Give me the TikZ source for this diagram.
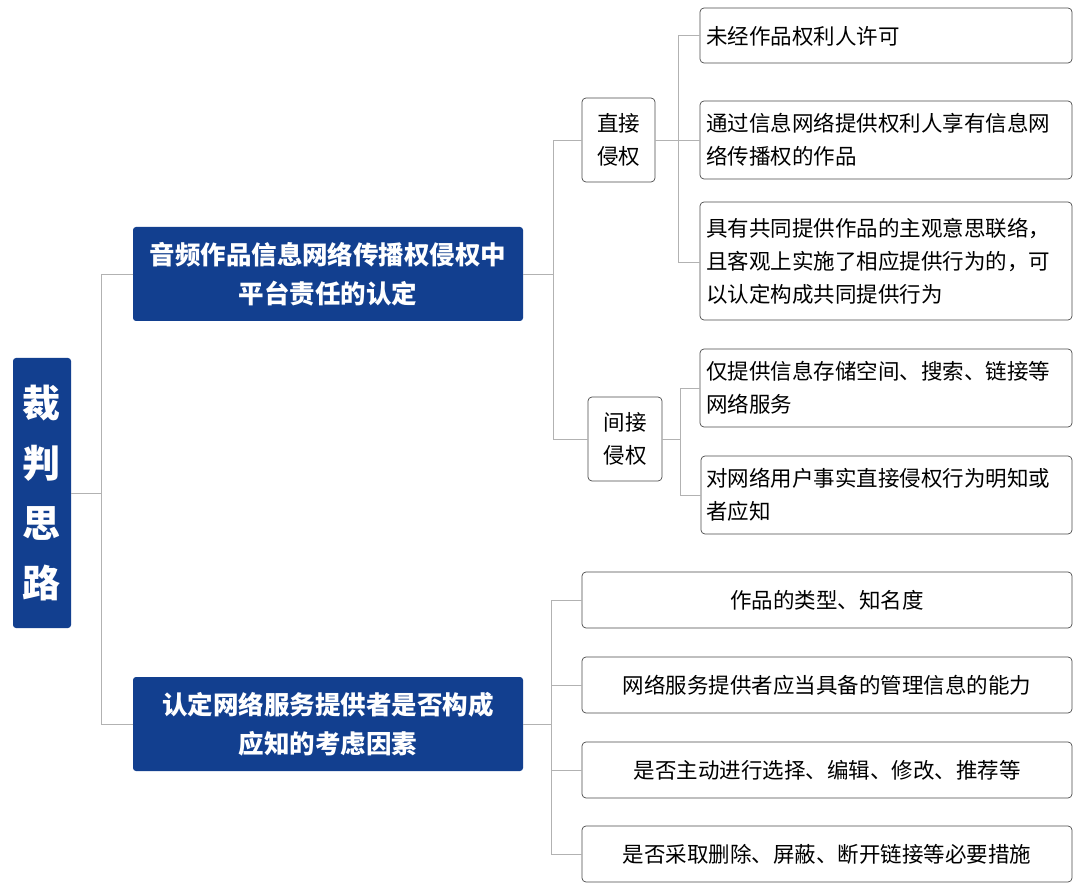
\documentclass[tikz,border=0pt]{standalone}
\usepackage{fontspec}
\setmainfont{Noto Sans CJK SC}
\begin{document}
\begin{tikzpicture}[x=1pt,y=-1pt,
 dark/.style={fill=navy,draw=none,rounded corners=3pt,text=white,font=\fontsize{25.5}{39}\selectfont\bfseries,align=center},
 box/.style={draw=black!70,line width=0.7pt,rounded corners=4pt,fill=white},
 txt/.style={font=\fontsize{21.5}{33}\selectfont,align=left,anchor=west,inner sep=0pt},
 ctr/.style={font=\fontsize{21.5}{33}\selectfont,align=center},
 ln/.style={draw=black!30,line width=0.8pt}]
\definecolor{navy}{HTML}{123F8F}
\useasboundingbox (0,0) rectangle (1080,890);
\fill[white] (0,0) rectangle (1080,890);
% root
\fill[navy,rounded corners=3pt] (13,358) rectangle (71,628);
\node[text=white,font=\fontsize{38}{60}\selectfont\bfseries,align=center] (root) at (42,493) {裁\\判\\思\\路};
\coordinate (rootR) at (71,493);
% A,B
\fill[navy,rounded corners=3pt] (133,227) rectangle (523,321);
\node[dark] (A) at (328,274) {音频作品信息网络传播权侵权中\\平台责任的认定};
\fill[navy,rounded corners=3pt] (133,677) rectangle (523,771);
\node[dark] (B) at (328,724) {认定网络服务提供者是否构成\\应知的考虑因素};
\coordinate (AL) at (133,274); \coordinate (AR) at (523,274);
\coordinate (BL) at (133,724); \coordinate (BR) at (523,724);
% direct/indirect
\draw[box] (582,98) rectangle (655,182);
\node[ctr] (D) at (618.5,140) {直接\\侵权};
\draw[box] (588,397) rectangle (662,481);
\node[ctr] (I) at (625,439) {间接\\侵权};
% leaves
\draw[box] (700,8) rectangle (1072,63);
\node[txt] (l1) at (706,36) {未经作品权利人许可};
\draw[box] (700,101) rectangle (1072,179);
\node[txt] (l2) at (706,140) {通过信息网络提供权利人享有信息网\\络传播权的作品};
\draw[box] (700,202) rectangle (1072,320);
\node[txt] (l3) at (706,261) {具有共同提供作品的主观意思联络，\\且客观上实施了相应提供行为的，可\\以认定构成共同提供行为};
\draw[box] (700,349) rectangle (1072,427);
\node[txt] (l4) at (706,388) {仅提供信息存储空间、搜索、链接等\\网络服务};
\draw[box] (701,456) rectangle (1072,534);
\node[txt] (l5) at (706,495) {对网络用户事实直接侵权行为明知或\\者应知};
\draw[box] (582,572) rectangle (1072,628);
\node[ctr] (b1) at (827,600) {作品的类型、知名度};
\draw[box] (582,657) rectangle (1072,713);
\node[ctr] (b2) at (827,685) {网络服务提供者应当具备的管理信息的能力};
\draw[box] (582,742) rectangle (1072,798);
\node[ctr] (b3) at (827,770) {是否主动进行选择、编辑、修改、推荐等};
\draw[box] (582,826) rectangle (1072,882);
\node[ctr] (b4) at (827,854) {是否采取删除、屏蔽、断开链接等必要措施};
% connectors
\draw[ln] (rootR) -- (101,493);
\draw[ln] (AL) -| (101,724) -- (BL);
\draw[ln] (AR) -- (553,274);
\draw[ln] (582,140) -| (553,439) -- (588,439);
\draw[ln] (655,140) -- (678,140);
\draw[ln] (700,35) -| (678,262) -- (700,262);
\draw[ln] (678,140) -- (700,140);
\draw[ln] (662,439) -- (680,439);
\draw[ln] (700,388) -| (680,495) -- (701,495);
\draw[ln] (BR) -- (551,724);
\draw[ln] (582,600) -| (551,854) -- (582,854);
\draw[ln] (551,685) -- (582,685);
\draw[ln] (551,770) -- (582,770);
\end{tikzpicture}
\end{document}
